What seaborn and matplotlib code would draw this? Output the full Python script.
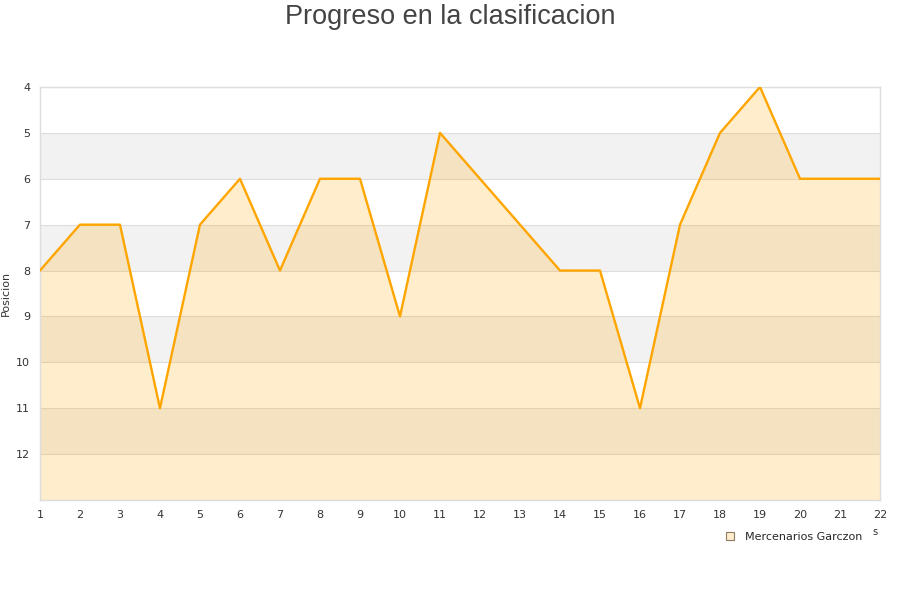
import matplotlib
matplotlib.use("Agg")
import matplotlib.pyplot as plt
import seaborn as sns
import pandas as pd
from matplotlib.lines import Line2D


# -----------------------------
# Data
# -----------------------------

jornadas = list(range(1, 23))
posiciones = [8, 7, 7, 11, 7, 6, 8, 6, 6, 9, 5, 6, 7, 8, 8, 11, 7, 5, 4, 6, 6, 6]
equipo = "Mercenarios Garczon"
y_ticks = [4, 5, 6, 7, 8, 9, 10, 11, 12]

df = pd.DataFrame({"Jornada": jornadas, "Posicion": posiciones})


# -----------------------------
# Figure
# -----------------------------

sns.set_style("white")
plt.rcParams["font.family"] = ["DejaVu Sans"]

fig = plt.figure(figsize=(9, 6), dpi=100)
ax = fig.add_axes([0.0444, 0.1667, 0.9334, 0.6883])

# alternating bands
for lo in [5, 7, 9, 11]:
    ax.axhspan(lo, lo + 1, color="#f2f2f2", zorder=0, lw=0)

for yv in range(4, 14):
    ax.axhline(yv, color="#dddddd", lw=0.8, zorder=1)

ax.fill_between(df["Jornada"], df["Posicion"], 13,
                color="#ffa500", alpha=0.2, lw=0, zorder=2)

sns.lineplot(data=df, x="Jornada", y="Posicion", ax=ax,
             color="#ffa500", lw=1.7, zorder=3)

ax.set_xlim(1, 22)
ax.set_ylim(13, 4)
ax.set_xticks(jornadas)
ax.set_yticks(y_ticks)
ax.tick_params(axis="both", labelsize=8, colors="#333333", length=0, pad=7)

for s in ax.spines.values():
    s.set_color("#dddddd")
    s.set_linewidth(1)

ax.set_xlabel("")
ax.set_ylabel("Posicion", fontsize=8, color="#333333")
ax.yaxis.set_label_coords(-0.035, 0.5)

fig.text(0.5, 0.972, "Progreso en la clasificacion", ha="center", va="center",
         fontsize=19.5, color="#444444", family="Liberation Sans")

fig.text(0.972, 0.113, "s", ha="center", va="center", fontsize=7, color="#333333")

handle = Line2D([], [], marker="s", ls="none", markersize=6,
                markerfacecolor="#ffedcc", markeredgecolor="#8a7a60", markeredgewidth=0.8)
fig.legend([handle], [equipo], loc="center left", bbox_to_anchor=(0.788, 0.105),
           frameon=False, fontsize=8, handletextpad=0.3)

fig.savefig("out.png", dpi=100)
